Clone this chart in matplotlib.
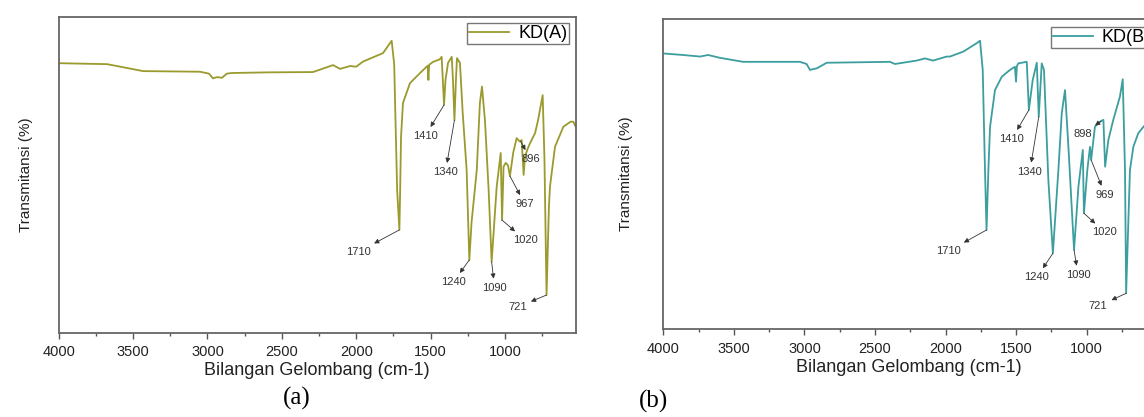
import numpy as np
import matplotlib
matplotlib.use('Agg')
import matplotlib.pyplot as plt
from matplotlib.ticker import MultipleLocator

plt.rcParams['font.family'] = ['Liberation Sans', 'DejaVu Sans']

# spektrum KD(A)
wn_a = [4000, 3675, 3433, 3050, 2990, 2963, 2935, 2902, 2870, 2835, 2600, 2291,
        2156, 2109, 2042, 2000, 1955, 1820, 1762, 1745, 1739, 1725, 1710, 1705,
        1699, 1686, 1639, 1571, 1520, 1515, 1510, 1484, 1440, 1426, 1418, 1410,
        1400, 1383, 1358, 1350, 1340, 1330, 1323, 1303, 1285, 1258, 1240, 1225,
        1190, 1169, 1155, 1135, 1110, 1090, 1056, 1029, 1020, 1010, 995, 980,
        967, 945, 922, 900, 888, 875, 866, 850, 832, 798, 778, 747, 735, 721,
        705, 698, 664, 608, 560, 541, 525]
t_a = [85.3, 85.0, 82.8, 82.6, 82.0, 80.5, 80.9, 80.7, 82.0, 82.2, 82.4, 82.5,
       84.7, 83.5, 84.4, 84.2, 85.8, 88.5, 92.4, 85.0, 72.7, 45.0, 32.6, 45.0,
       62.0, 72.7, 79.0, 82.2, 84.5, 80.0, 84.8, 85.7, 86.5, 87.3, 80.0, 72.1,
       80.0, 85.4, 87.3, 80.0, 67.3, 80.0, 86.9, 85.4, 70.0, 51.5, 23.1, 35.0,
       51.5, 72.7, 77.9, 67.3, 45.0, 22.5, 46.3, 56.9, 35.7, 52.6, 53.8, 53.0,
       49.6, 57.0, 61.6, 60.5, 61.0, 50.0, 55.7, 58.0, 60.0, 63.2, 67.3, 75.2,
       55.0, 12.0, 40.0, 46.3, 58.9, 65.2, 66.8, 66.8, 65.2]

# spektrum KD(B)
wn_b = [4000, 3860, 3740, 3683, 3600, 3435, 3032, 2985, 2961, 2913, 2842, 2394,
        2359, 2205, 2146, 2089, 1992, 1969, 1874, 1780, 1756, 1737, 1721, 1710,
        1697, 1685, 1650, 1602, 1544, 1509, 1501, 1495, 1485, 1425, 1410, 1383,
        1354, 1340, 1319, 1303, 1272, 1240, 1201, 1177, 1154, 1130, 1090, 1059,
        1028, 1020, 996, 977, 969, 942, 906, 882, 870, 847, 812, 765, 745, 729,
        721, 694, 670, 635, 594, 560, 525]
t_b = [88.9, 88.4, 87.9, 88.4, 87.5, 86.2, 86.2, 85.5, 83.6, 84.1, 85.9, 86.2,
       85.5, 86.6, 87.3, 86.6, 87.9, 87.9, 89.5, 92.2, 93.0, 83.6, 51.3, 32.0,
       51.3, 65.3, 77.1, 81.4, 83.6, 84.6, 79.8, 84.8, 85.7, 86.2, 70.7, 80.3,
       85.9, 68.5, 85.7, 83.6, 48.1, 24.5, 51.3, 69.7, 77.1, 58.8, 25.6, 46.0,
       57.8, 37.4, 51.3, 58.8, 54.6, 65.3, 66.9, 67.5, 52.4, 61.0, 67.5, 75.0,
       80.6, 51.3, 11.6, 51.3, 58.8, 63.2, 65.5, 66.5, 67.0]

peaks_a = [1710, 1410, 1340, 1240, 1090, 1020, 967, 896, 721]
peaks_b = [1710, 1410, 1340, 1240, 1090, 1020, 969, 898, 721]

# posisi label (offset piksel dari puncak)
off_a = [(-41, -22), (-19, -31), (-9, -52), (-16, -22), (3, -26),
         (23, -20), (15, -28), (10, -18), (-29, -12)]
off_b = [(-38, -21), (-17, -29), (-9, -55), (-16, -24), (4, -25),
         (21, -19), (14, -35), (-18, -13), (-28, -13)]

W, H = 1144, 417
fig = plt.figure(figsize=(W / 100, H / 100), dpi=100)

ax1 = fig.add_axes([58.7 / W, (H - 333) / H, 517 / W, 316.3 / H])
ax2 = fig.add_axes([663.3 / W, (H - 329.3) / H, 490.5 / W, 310.3 / H])


def draw(ax, wn, t, peaks, offs, color, name, leg_anchor, ylab_x):
    ax.plot(wn, t, color=color, lw=1.3, label=name)
    ax.set_xlim(4000, 525)
    ax.set_ylim(0, 100)
    ax.set_yticks([])
    ax.xaxis.set_minor_locator(MultipleLocator(250))
    ax.set_xticks([4000, 3500, 3000, 2500, 2000, 1500, 1000])
    ax.tick_params(axis='x', which='major', direction='out', length=4, width=1,
                   color='#555555', labelsize=10.5, pad=5, labelcolor='#222222')
    ax.tick_params(axis='x', which='minor', direction='out', length=2.5, width=1,
                   color='#555555')
    for s in ax.spines.values():
        s.set_color('#666666')
        s.set_linewidth(1.3)
    ax.set_xlabel('Bilangan Gelombang (cm-1)', fontsize=13, labelpad=2,
                  color='#222222')
    ax.set_ylabel('Transmitansi (%)', fontsize=11, color='#222222')
    ax.yaxis.set_label_coords(ylab_x, 0.5)

    # label puncak dengan panah
    ws = np.array(wn[::-1], dtype=float)
    ts = np.array(t[::-1], dtype=float)
    for p, (dx, dy) in zip(peaks, offs):
        yv = np.interp(p, ws, ts)
        ax.annotate(str(p), xy=(p, yv), xytext=(dx, dy),
                    textcoords='offset pixels', ha='center', va='center',
                    fontsize=8, color='#333333',
                    arrowprops=dict(arrowstyle='<|-', color='#333333', lw=0.6,
                                    shrinkA=1, shrinkB=0, mutation_scale=7))

    leg = ax.legend(loc='upper right', bbox_to_anchor=leg_anchor,
                    borderaxespad=0, fontsize=13, frameon=True, fancybox=False,
                    handlelength=2.2, handletextpad=0.5, borderpad=0.1,
                    framealpha=1)
    leg.get_frame().set_edgecolor('#777777')
    leg.get_frame().set_linewidth(1.0)


draw(ax1, wn_a, t_a, peaks_a, off_a, '#9b9a2e', 'KD(A)', (0.987, 0.98), -0.050)
draw(ax2, wn_b, t_b, peaks_b, off_b, '#3c9e9e', 'KD(B)', (0.998, 0.974), -0.062)

fig.text(297 / W, 1 - 398 / H, '(a)', family='Liberation Serif', fontsize=18,
         ha='center', va='center')
fig.text(654 / W, 1 - 401 / H, '(b)', family='Liberation Serif', fontsize=18,
         ha='center', va='center')

fig.savefig('out.png', dpi=100)
